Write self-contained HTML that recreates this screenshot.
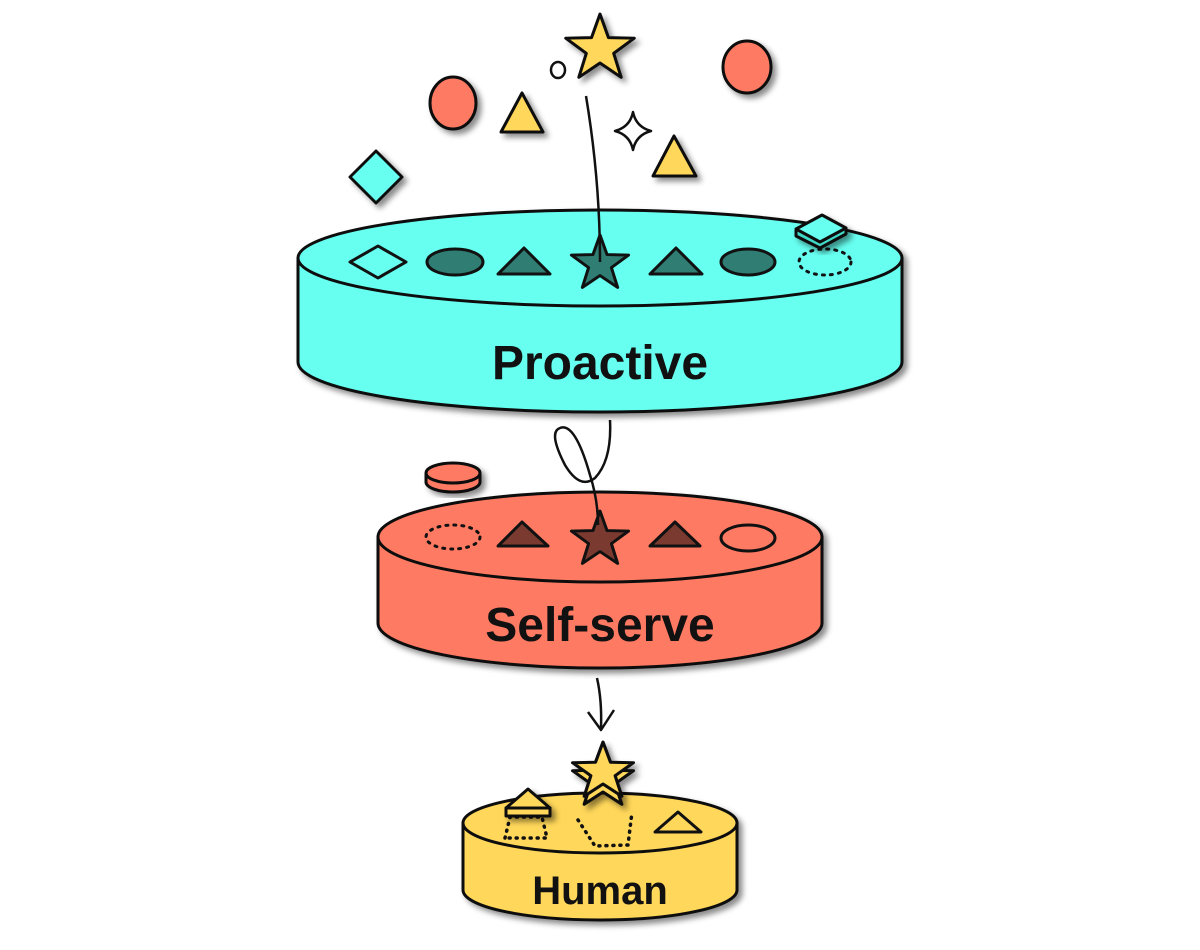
<!DOCTYPE html>
<html><head><meta charset="utf-8"><style>
html,body{margin:0;padding:0;background:#fff;width:1200px;height:950px;overflow:hidden}
svg{display:block}
text{font-family:"Liberation Sans",sans-serif;font-weight:bold;fill:#111}
</style></head><body>
<svg width="1200" height="950" viewBox="0 0 1200 950" xmlns="http://www.w3.org/2000/svg">
<defs>
<filter id="sh" x="-20%" y="-20%" width="140%" height="140%">
<feDropShadow dx="4" dy="4" stdDeviation="3" flood-color="#000" flood-opacity="0.45"/>
</filter>
<path id="star" d="M0,-1 L0.235,-0.324 L0.951,-0.309 L0.38,0.124 L0.588,0.809 L0,0.4 L-0.588,0.809 L-0.38,0.124 L-0.951,-0.309 L-0.235,-0.324Z"/>
</defs>
<g stroke="#111" stroke-width="3" stroke-linejoin="round">

<!-- TOP CYLINDER -->
<g filter="url(#sh)">
<path d="M298,258 L298,362 A302,50 0 0 0 902,362 L902,258 Z" fill="#66FFF0"/>
<ellipse cx="600" cy="258" rx="302" ry="48" fill="#66FFF0"/>
</g>
<text x="600" y="379" font-size="48" text-anchor="middle" stroke="none">Proactive</text>
<path d="M350,262 L378,246 L406,262 L378,278 Z" fill="#66FFF0"/>
<ellipse cx="455" cy="262" rx="28" ry="13" fill="#2F7D73"/>
<path d="M498,274 L524,248 L550,274 Z" fill="#2F7D73"/>
<path d="M650,274 L676,248 L702,274 Z" fill="#2F7D73"/>
<ellipse cx="748" cy="262" rx="27" ry="13" fill="#2F7D73"/>
<use href="#star" transform="translate(600,264) scale(30,29)" fill="#2F7D73" stroke-width="0.1"/>
<ellipse cx="825" cy="262" rx="26" ry="13" fill="none" stroke-dasharray="2 6" stroke-linecap="round"/>
<g filter="url(#sh)">
<path d="M796,230 L796,236 L820,248 L846,234 L846,228" fill="#3fd9c8"/>
<path d="M796,229 L822,215 L846,228 L820,242 Z" fill="#66FFF0"/>
</g>

<!-- floating -->
<g filter="url(#sh)">
<use href="#star" transform="translate(600,49) scale(36,35)" fill="#FFD75A" stroke-width="0.085"/>
<ellipse cx="453" cy="103" rx="23" ry="26" fill="#FF7A63"/>
<ellipse cx="747" cy="67" rx="24" ry="26" fill="#FF7A63"/>
<path d="M501,132 L522,93 L543,132 Z" fill="#FFD75A"/>
<path d="M653,176 L674,136 L696,176 Z" fill="#FFD75A"/>
<path d="M350,177 L376,151 L402,177 L376,203 Z" fill="#66FFF0"/>
</g>
<ellipse cx="558" cy="70" rx="7" ry="8" fill="#fff" stroke-width="2.5"/>
<path d="M633,112 Q636,127 651,131 Q636,135 633,150 Q630,135 615,131 Q630,127 633,112 Z" fill="#fff" stroke-width="2.5"/>
<path d="M586,96 Q600,180 600,262" fill="none" stroke-width="2.5"/>

<!-- MIDDLE CYLINDER -->
<g filter="url(#sh)">
<path d="M378,537 L378,623 A222,45 0 0 0 822,623 L822,537 Z" fill="#FF7A63"/>
<ellipse cx="600" cy="537" rx="222" ry="45" fill="#FF7A63"/>
</g>
<text x="600" y="641" font-size="48" text-anchor="middle" stroke="none">Self-serve</text>
<ellipse cx="453" cy="537" rx="27" ry="12" fill="none" stroke-dasharray="2 6" stroke-linecap="round"/>
<path d="M498,546 L522,522 L548,546 Z" fill="#7A3A30"/>
<path d="M650,546 L675,522 L700,546 Z" fill="#7A3A30"/>
<ellipse cx="748" cy="538" rx="27" ry="13" fill="none"/>
<use href="#star" transform="translate(600,540) scale(30,29)" fill="#7A3A30" stroke-width="0.1"/>
<g filter="url(#sh)">
<path d="M426,474 L426,482 A27,10 0 0 0 480,482 L480,474 Z" fill="#FF7A63"/>
<ellipse cx="453" cy="473" rx="27" ry="10" fill="#FF7A63"/>
</g>
<path d="M610,420 Q612,460 595,478 Q580,490 565,465 Q548,432 560,428 Q575,422 590,475 Q598,500 598,525" fill="none" stroke-width="2.5"/>
<path d="M597,678 Q602,700 601,728 M588,712 L601,730 L614,710" fill="none" stroke-width="2.5"/>

<!-- BOTTOM CYLINDER -->
<g filter="url(#sh)">
<path d="M463,823 L463,890 A137,30 0 0 0 737,890 L737,823 Z" fill="#FFD75A"/>
<ellipse cx="600" cy="823" rx="137" ry="30" fill="#FFD75A"/>
</g>
<text x="600" y="904" font-size="40" text-anchor="middle" stroke="none">Human</text>
<path d="M505,838 L510,817 L542,817 L547,838 Z" fill="none" stroke-dasharray="1 6" stroke-linecap="round" stroke-width="3.5"/>
<path d="M578,820 L595,846 L628,845 L632,812" fill="none" stroke-dasharray="1 6" stroke-linecap="round" stroke-width="3.5"/>
<path d="M655,832 L678,812 L701,832 Z" fill="none"/>
<g filter="url(#sh)">
<path d="M506,808 L506,816 L550,816 L550,808 Z" fill="#FFD75A"/>
<path d="M506,808 L528,789 L550,808 Z" fill="#FFD75A"/>
<use href="#star" transform="translate(603,780) scale(32,30)" fill="#FFD75A" stroke-width="0.1"/>
<use href="#star" transform="translate(603,772) scale(32,30)" fill="#FFD75A" stroke-width="0.1"/>
</g>
</g>
</svg>
</body></html>
